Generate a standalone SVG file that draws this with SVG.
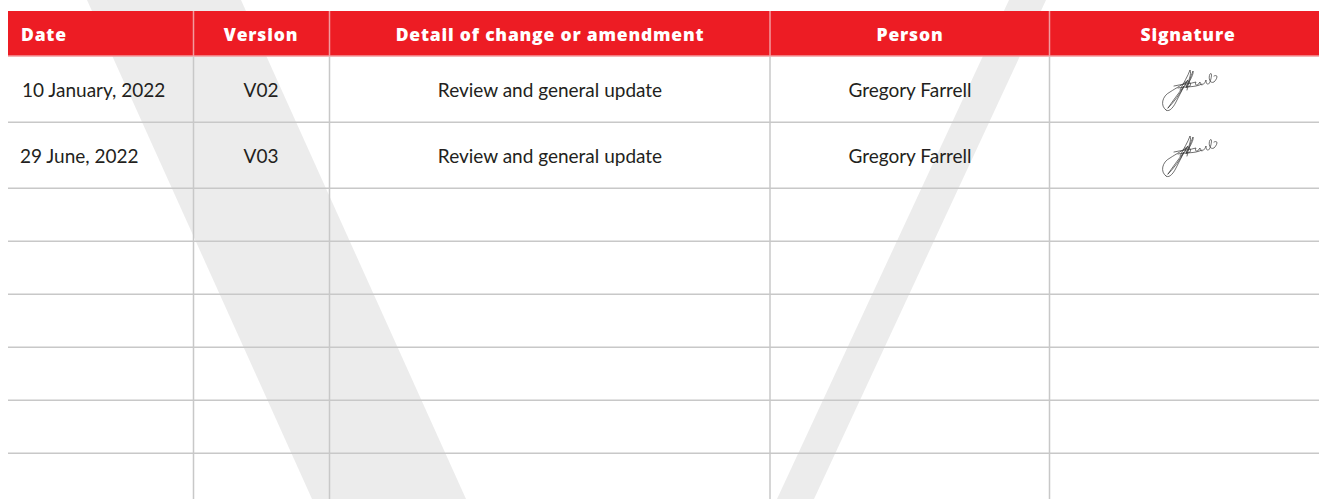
<svg xmlns="http://www.w3.org/2000/svg" width="1319" height="499" viewBox="0 0 1319 499">
  <style>
    .hdr { font-family: "Open Sans", "Liberation Sans", sans-serif; font-weight: 800; font-size: 17.5px; letter-spacing: 0.8px; fill: #ffffff; }
    .cell { font-family: "Lato", "Liberation Sans", sans-serif; font-size: 19px; fill: #231f20; }
    .grid { stroke: #c8c8c8; stroke-width: 1.5; fill: none; }
    .hdiv { stroke: #f39a9e; stroke-width: 1.5; }
    .sig { fill: none; stroke: #333333; stroke-width: 0.7; stroke-linecap: round; stroke-linejoin: round; }
  </style>
  <defs>
    <g id="signature">
      <path class="sig" d="M0 38 C-6 34 -4 24 4 20 C10 16 18 12 22 8 C18 14 14 22 10 30 C6 38 2 40 0 38 Z"/>
      <path class="sig" d="M2 36 C6 30 12 22 18 14 C14 22 8 30 2 36"/>
      <path class="sig" d="M14 18 C18 10 22 4 24 -2 C26 2 22 10 20 16 C24 8 28 2 27 -1 C25 4 22 12 21 18"/>
      <path class="sig" d="M8 14 C16 12 24 12 30 10 C28 14 32 14 34 10 C34 14 38 14 40 8 C40 12 42 14 44 10 C46 4 46 0 44 2 C42 6 44 12 48 10 C52 6 52 2 48 4"/>
      <path class="sig" d="M18 12 C22 8 26 10 24 14 C22 16 18 14 20 10"/>
      <path class="sig" d="M12 16 C20 14 28 16 36 12"/>
    </g>
  </defs>

  <g id="background-v">
    <polygon points="87,0 241,0 466,499 312,499" fill="#ececec"/>
    <polygon points="1009,0 1046,0 814,499 777,499" fill="#ececec"/>
  </g>

  <g id="header">
    <rect x="8" y="11" width="1311" height="45" fill="#ed1c24"/>
    <line class="hdiv" x1="193.5" y1="11" x2="193.5" y2="56"/>
    <line class="hdiv" x1="329.5" y1="11" x2="329.5" y2="56"/>
    <line class="hdiv" x1="770" y1="11" x2="770" y2="56"/>
    <line class="hdiv" x1="1049.5" y1="11" x2="1049.5" y2="56"/>
    <line class="hdiv" x1="8" y1="56" x2="1319" y2="56"/>
    <text class="hdr" x="21" y="41">Date</text>
    <text class="hdr" x="261" y="41" text-anchor="middle">Version</text>
    <text class="hdr" x="550" y="41" text-anchor="middle">Detail of change or amendment</text>
    <text class="hdr" x="910" y="41" text-anchor="middle">Person</text>
    <text class="hdr" x="1188" y="41" text-anchor="middle">Signature</text>
  </g>

  <g id="grid">
    <line class="grid" x1="193.5" y1="56.5" x2="193.5" y2="499"/>
    <line class="grid" x1="329.5" y1="56.5" x2="329.5" y2="499"/>
    <line class="grid" x1="770" y1="56.5" x2="770" y2="499"/>
    <line class="grid" x1="1049.5" y1="56.5" x2="1049.5" y2="499"/>
    <line class="grid" x1="8" y1="122.3" x2="1319" y2="122.3"/>
    <line class="grid" x1="8" y1="188.3" x2="1319" y2="188.3"/>
    <line class="grid" x1="8" y1="241.3" x2="1319" y2="241.3"/>
    <line class="grid" x1="8" y1="294.3" x2="1319" y2="294.3"/>
    <line class="grid" x1="8" y1="347.3" x2="1319" y2="347.3"/>
    <line class="grid" x1="8" y1="400.3" x2="1319" y2="400.3"/>
    <line class="grid" x1="8" y1="453.3" x2="1319" y2="453.3"/>
  </g>

  <g id="row1">
    <text class="cell" x="22" y="97">10 January, 2022</text>
    <text class="cell" x="261" y="97" text-anchor="middle">V02</text>
    <text class="cell" x="550" y="97" text-anchor="middle">Review and general update</text>
    <text class="cell" x="910" y="97" text-anchor="middle">Gregory Farrell</text>
    <use href="#signature" x="1166" y="72"/>
  </g>

  <g id="row2">
    <text class="cell" x="20" y="163">29 June, 2022</text>
    <text class="cell" x="261" y="163" text-anchor="middle">V03</text>
    <text class="cell" x="550" y="163" text-anchor="middle">Review and general update</text>
    <text class="cell" x="910" y="163" text-anchor="middle">Gregory Farrell</text>
    <use href="#signature" x="1166" y="138"/>
  </g>
</svg>
